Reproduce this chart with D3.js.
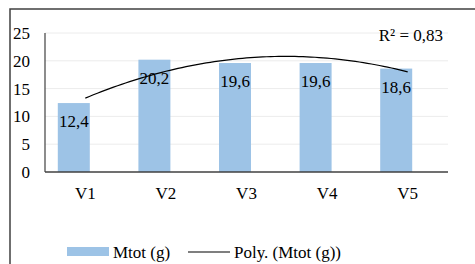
<!DOCTYPE html>
<html>
<head>
<meta charset="utf-8">
<script src="https://cdn.jsdelivr.net/npm/d3@7"></script>
<style>
  body { margin: 0; background: #fff; }
</style>
</head>
<body>
<div class="chart-output"></div>
<script>
// data
var categories = ["V1", "V2", "V3", "V4", "V5"];
var mtot = [12.4, 20.2, 19.6, 19.6, 18.6];
var yTicks = [0, 5, 10, 15, 20, 25];
var r2Label = "R² = 0,83";

var w = 475, h = 264;
var fs = 17;
var font = "'Liberation Serif', 'Times New Roman', Tinos, 'DejaVu Serif', serif";

var svg = d3.select(".chart-output")
    .append("svg")
    .attr("width", w)
    .attr("height", h)
    .attr("font-family", font);

// outer frame (only left and top visible in the crop)
svg.append("path")
    .attr("d", "M10," + h + "V9H" + w)
    .attr("fill", "none")
    .attr("stroke", "#404040")
    .attr("stroke-width", 1.5);

var x = d3.scaleBand().domain(categories).range([45, 448]);
var y = d3.scaleLinear().domain([0, 25]).range([172, 33]);

// gridlines
svg.selectAll(".grid")
    .data(yTicks.filter(function(d) { return d > 0; }))
    .enter()
    .append("line")
    .attr("x1", 45).attr("x2", 448)
    .attr("y1", function(d) { return y(d); })
    .attr("y2", function(d) { return y(d); })
    .attr("stroke", "#ececec")
    .attr("stroke-width", 1);

// y labels
svg.selectAll(".ylab")
    .data(yTicks)
    .enter()
    .append("text")
    .attr("x", 30)
    .attr("y", function(d) { return y(d) + 6; })
    .attr("text-anchor", "end")
    .attr("font-size", fs)
    .text(function(d) { return d; });

// bars (sit left of the band centre, as in the reference)
var barW = 32;
function barX(c) { return x(c) + x.bandwidth() / 2 - 27.5; }

svg.selectAll(".bar")
    .data(mtot)
    .enter()
    .append("rect")
    .attr("x", function(d, i) { return barX(categories[i]); })
    .attr("y", function(d) { return y(d); })
    .attr("width", barW)
    .attr("height", function(d) { return y(0) - y(d); })
    .attr("fill", "#9dc3e6");

// axes lines
svg.append("line")
    .attr("x1", 45).attr("x2", 45)
    .attr("y1", 33).attr("y2", y(0))
    .attr("stroke", "#404040").attr("stroke-width", 1.2);
svg.append("line")
    .attr("x1", 45).attr("x2", 448)
    .attr("y1", y(0)).attr("y2", y(0))
    .attr("stroke", "#404040").attr("stroke-width", 1.5);

// x labels
svg.selectAll(".xlab")
    .data(categories)
    .enter()
    .append("text")
    .attr("x", function(d) { return x(d) + x.bandwidth() / 2; })
    .attr("y", 199)
    .attr("text-anchor", "middle")
    .attr("font-size", fs)
    .text(function(d) { return d; });

// polynomial (order 2) trendline fitted on the values
var n = mtot.length;
var ts = mtot.map(function(d, i) { return i - (n - 1) / 2; });
var mean = d3.mean(mtot);
var b = d3.sum(ts, function(t, i) { return t * mtot[i]; }) / d3.sum(ts, function(t) { return t * t; });
var m2 = d3.mean(ts, function(t) { return t * t; });
var p2 = ts.map(function(t) { return t * t - m2; });
var c = d3.sum(p2, function(p, i) { return p * mtot[i]; }) / d3.sum(p2, function(p) { return p * p; });
function fit(t) { return mean + b * t + c * (t * t - m2); }

var xc = d3.scaleLinear().domain([ts[0], ts[n - 1]])
    .range([x(categories[0]) + x.bandwidth() / 2, x(categories[n - 1]) + x.bandwidth() / 2]);
var pts = d3.range(ts[0], ts[n - 1] + 0.001, 0.05);
svg.append("path")
    .datum(pts)
    .attr("d", d3.line()
        .x(function(t) { return xc(t); })
        .y(function(t) { return y(fit(t)); }))
    .attr("fill", "none")
    .attr("stroke", "#000")
    .attr("stroke-width", 1.2);

// data labels
svg.selectAll(".dlab")
    .data(mtot)
    .enter()
    .append("text")
    .attr("x", function(d, i) { return barX(categories[i]) + barW / 2; })
    .attr("y", function(d) { return y(d) + 24; })
    .attr("text-anchor", "middle")
    .attr("font-size", fs)
    .text(function(d) { return d3.format(".1f")(d).replace(".", ","); });

// R² label
svg.append("text")
    .attr("x", 443)
    .attr("y", 41)
    .attr("text-anchor", "end")
    .attr("font-size", fs)
    .text(r2Label);

// legend
svg.append("rect")
    .attr("x", 67).attr("y", 247)
    .attr("width", 42).attr("height", 9)
    .attr("fill", "#9dc3e6");
svg.append("text")
    .attr("x", 113).attr("y", 258)
    .attr("font-size", fs)
    .text("Mtot (g)");
svg.append("line")
    .attr("x1", 188).attr("x2", 230)
    .attr("y1", 252).attr("y2", 252)
    .attr("stroke", "#000").attr("stroke-width", 1.2);
svg.append("text")
    .attr("x", 234).attr("y", 258)
    .attr("font-size", fs)
    .text("Poly. (Mtot (g))");
</script>
</body>
</html>
